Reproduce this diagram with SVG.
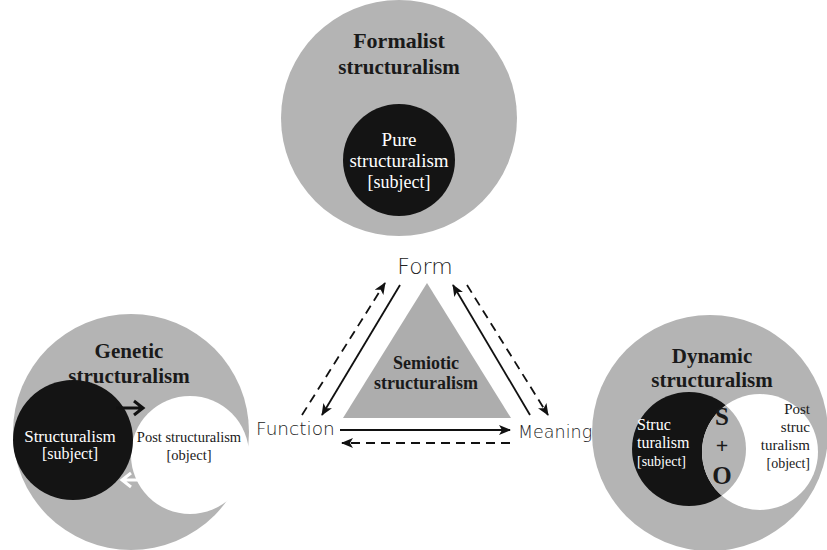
<svg xmlns="http://www.w3.org/2000/svg" width="827" height="550" viewBox="0 0 827 550">
<defs>
<style>
.outer{fill:#b4b4b4}
.blk{fill:#141414}
.wht{fill:#ffffff}
.title{font-family:"Liberation Serif",serif;font-weight:bold;font-size:21px;fill:#1a1a1a;text-anchor:middle}
.wt{font-family:"Liberation Serif",serif;font-size:16px;fill:#ffffff;text-anchor:middle}
.bt{font-family:"Liberation Serif",serif;font-size:15px;fill:#1a1a1a;text-anchor:middle}
.hand{font-family:"DejaVu Sans",sans-serif;font-weight:200;font-size:22px;fill:#222}
.sol{stroke:#111;stroke-width:1.8;fill:none}
.dash{stroke:#111;stroke-width:1.8;fill:none;stroke-dasharray:9 6}
</style>
<marker id="ah" viewBox="0 0 12 10" refX="11" refY="5" markerWidth="12" markerHeight="10" markerUnits="userSpaceOnUse" orient="auto">
<path d="M0,0 L12,5 L0,10 L3,5 Z" fill="#111"/>
</marker>
<clipPath id="lens"><circle cx="760" cy="452" r="58"/></clipPath>
</defs>

<g id="formalist">
<circle class="outer" cx="399" cy="118" r="118"/>
<text class="title" x="399" y="48" style="font-size:22px">Formalist</text>
<text class="title" x="399" y="74">structuralism</text>
<circle class="blk" cx="399" cy="160" r="56"/>
<text class="wt" x="399" y="146" style="font-size:19px">Pure</text>
<text class="wt" x="399" y="167" style="font-size:19px">structuralism</text>
<text class="wt" x="399" y="188" style="font-size:18px">[subject]</text>
</g>

<g id="genetic">
<circle class="outer" cx="131" cy="432" r="118"/>
<text class="title" x="129" y="358">Genetic</text>
<text class="title" x="129" y="383">structuralism</text>
<circle class="wht" cx="190" cy="455" r="59"/>
<circle class="blk" cx="73" cy="440" r="60"/>
<text class="wt" x="70" y="442" style="font-size:17px">Structuralism</text>
<text class="wt" x="70" y="459">[subject]</text>
<text class="bt" x="189" y="442" style="font-size:14.5px">Post structuralism</text>
<text class="bt" x="189" y="460" style="font-size:14.5px">[object]</text>
<path d="M116,408 L143,408 M134,401 L143,408 L134,415" stroke="#111" stroke-width="3" fill="none"/>
<path d="M145,480 L122,480 M131,473 L122,480 L131,487" stroke="#fff" stroke-width="3" fill="none"/>
</g>

<g id="dynamic">
<circle class="outer" cx="710" cy="433" r="118"/>
<text class="title" x="712" y="363">Dynamic</text>
<text class="title" x="712" y="387">structuralism</text>
<circle class="blk" cx="689" cy="449" r="57"/>
<circle class="wht" cx="760" cy="452" r="58"/>
<circle class="outer" cx="689" cy="449" r="57" clip-path="url(#lens)"/>
<text class="wt" x="637" y="430" style="text-anchor:start">Struc</text>
<text class="wt" x="637" y="448" style="text-anchor:start">turalism</text>
<text class="wt" x="637" y="466" style="text-anchor:start;font-size:14px">[subject]</text>
<text class="title" x="722" y="425" style="font-size:25px">S</text>
<text class="title" x="722" y="453" style="font-size:22px">+</text>
<text class="title" x="722" y="484" style="font-size:25px">O</text>
<text class="bt" x="810" y="414" style="text-anchor:end">Post</text>
<text class="bt" x="810" y="432" style="text-anchor:end">struc</text>
<text class="bt" x="810" y="450" style="text-anchor:end">turalism</text>
<text class="bt" x="810" y="468" style="text-anchor:end;font-size:14px">[object]</text>
</g>

<g id="semiotic">
<polygon points="427,283 343,418 511,418" fill="#adadad"/>
<text class="title" x="426" y="369" style="font-size:18px">Semiotic</text>
<text class="title" x="426" y="389" style="font-size:18px">structuralism</text>
</g>

<g id="form"><text class="hand" x="425" y="274" style="text-anchor:middle">Form</text></g>
<g id="function"><text class="hand" x="256" y="435" style="font-size:18.5px">Function</text></g>
<g id="meaning"><text class="hand" x="518" y="438" style="font-size:17.5px">Meaning</text></g>

<g id="connectors">
<line class="sol" x1="400" y1="285" x2="322" y2="415" marker-end="url(#ah)"/>
<line class="dash" x1="302" y1="415" x2="385" y2="283" marker-end="url(#ah)"/>
<line class="sol" x1="530" y1="415" x2="453" y2="285" marker-end="url(#ah)"/>
<line class="dash" x1="467" y1="285" x2="548" y2="415" marker-end="url(#ah)"/>
<line class="sol" x1="340" y1="430" x2="510" y2="430" marker-end="url(#ah)"/>
<line class="dash" x1="510" y1="443" x2="342" y2="443" marker-end="url(#ah)"/>
</g>
</svg>
